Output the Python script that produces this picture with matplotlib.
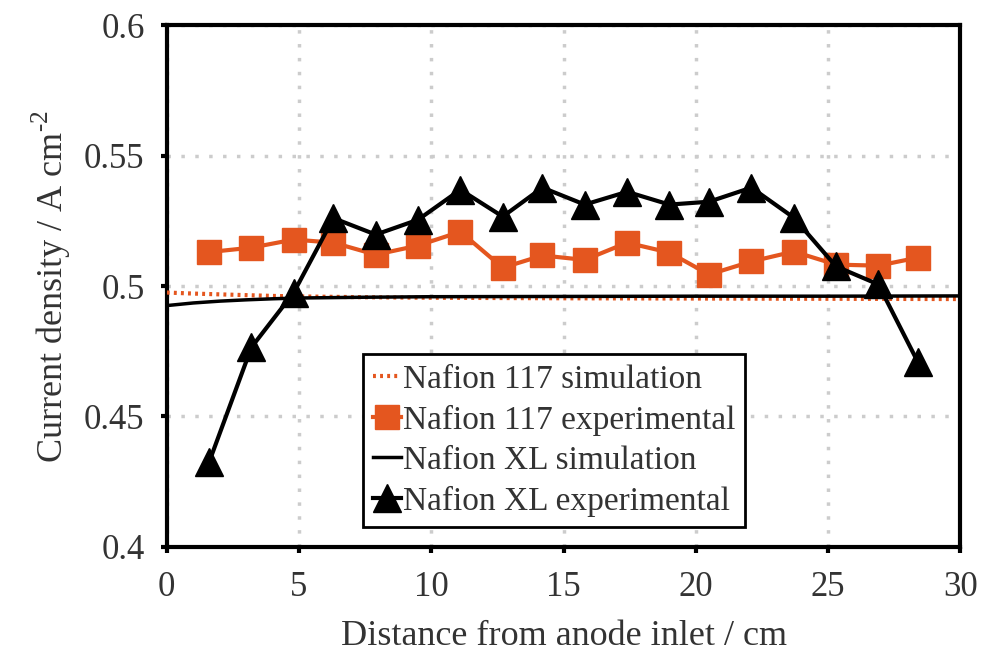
#!/usr/bin/env python3

import numpy as np
import matplotlib
matplotlib.use('Agg')
import matplotlib.pyplot as plt

plt.rcParams['font.family'] = ['Liberation Serif', 'DejaVu Serif']
plt.rcParams['mathtext.fontset'] = 'custom'
plt.rcParams['mathtext.rm'] = 'Liberation Serif'

# Experimental data (both membranes measured at the same segments)
x_exp = [1.6, 3.2, 4.8, 6.3, 7.9, 9.5, 11.1, 12.7, 14.2, 15.8,
         17.4, 19.0, 20.5, 22.1, 23.7, 25.3, 26.9, 28.4]
j_117_exp = [0.513, 0.5147, 0.5178, 0.5166, 0.512, 0.5155, 0.5208, 0.507, 0.5117, 0.510,
             0.5166, 0.5128, 0.5044, 0.5094, 0.5132, 0.5082, 0.5078, 0.5109]
j_xl_exp = [0.4325, 0.4765, 0.4975, 0.526, 0.5197, 0.5254, 0.5369, 0.5266, 0.5377, 0.5312,
            0.5361, 0.5312, 0.5323, 0.5377, 0.5262, 0.5075, 0.5006, 0.4707]

# Simulation curves
x_sim = [0, 1, 2, 3, 4, 5, 7.5, 10, 15, 20, 25, 30]
j_117_sim = [0.4975, 0.4971, 0.4968, 0.4965, 0.4962, 0.496, 0.4957, 0.4955, 0.4953, 0.4952, 0.4951, 0.4950]
j_xl_sim = [0.4925, 0.4935, 0.4942, 0.4947, 0.4951, 0.4954, 0.4957, 0.4959, 0.4960, 0.4961, 0.4961, 0.4962]

orange = '#E4561F'
txt = '#333333'

fig = plt.figure(figsize=(9.81, 6.59), dpi=100)
ax = fig.add_axes([0.170, 0.170, 0.809, 0.792])

ax.plot(x_sim, j_117_sim, color=orange, lw=3, ls=(0, (0.7, 1.0)), label='Nafion 117 simulation', zorder=3)
ax.plot(x_exp, j_117_exp, '-s', color=orange, lw=3, ms=17, label='Nafion 117 experimental', zorder=4)
ax.plot(x_sim, j_xl_sim, '-', color='black', lw=2.5, label='Nafion XL simulation', zorder=3)
ax.plot(x_exp, j_xl_exp, '-^', color='black', lw=3, ms=20, label='Nafion XL experimental', zorder=5)

ax.set_xlim(0, 30)
ax.set_ylim(0.4, 0.6)
ax.set_xticks(np.arange(0, 31, 5))
ax.set_yticks([0.4, 0.45, 0.5, 0.55, 0.6])
ax.set_yticklabels(['0.4', '0.45', '0.5', '0.55', '0.6'])
ax.grid(True, linestyle=(0, (1, 3)), color='#cccccc', lw=2.5)
ax.set_axisbelow(True)

for s in ax.spines.values():
    s.set_linewidth(3)
ax.tick_params(direction='out', length=4, width=3, labelsize=25, labelcolor=txt)
ax.tick_params(axis='x', pad=13)
ax.tick_params(axis='y', pad=12)

ax.set_xlabel('Distance from anode inlet / cm', fontsize=26, labelpad=12, color=txt)
ax.set_ylabel(r'Current density / A cm$^{\text{-2}}$', fontsize=26, labelpad=8, color=txt)

leg = ax.legend(loc='lower left', bbox_to_anchor=(0.247, 0.038), fontsize=24,
                handlelength=0.85, handletextpad=0.05, labelspacing=0.3,
                borderpad=0.3, borderaxespad=0, fancybox=False, framealpha=1,
                edgecolor='black', labelcolor=txt)
leg.get_frame().set_linewidth(2)

fig.savefig('out.png', dpi=100)
